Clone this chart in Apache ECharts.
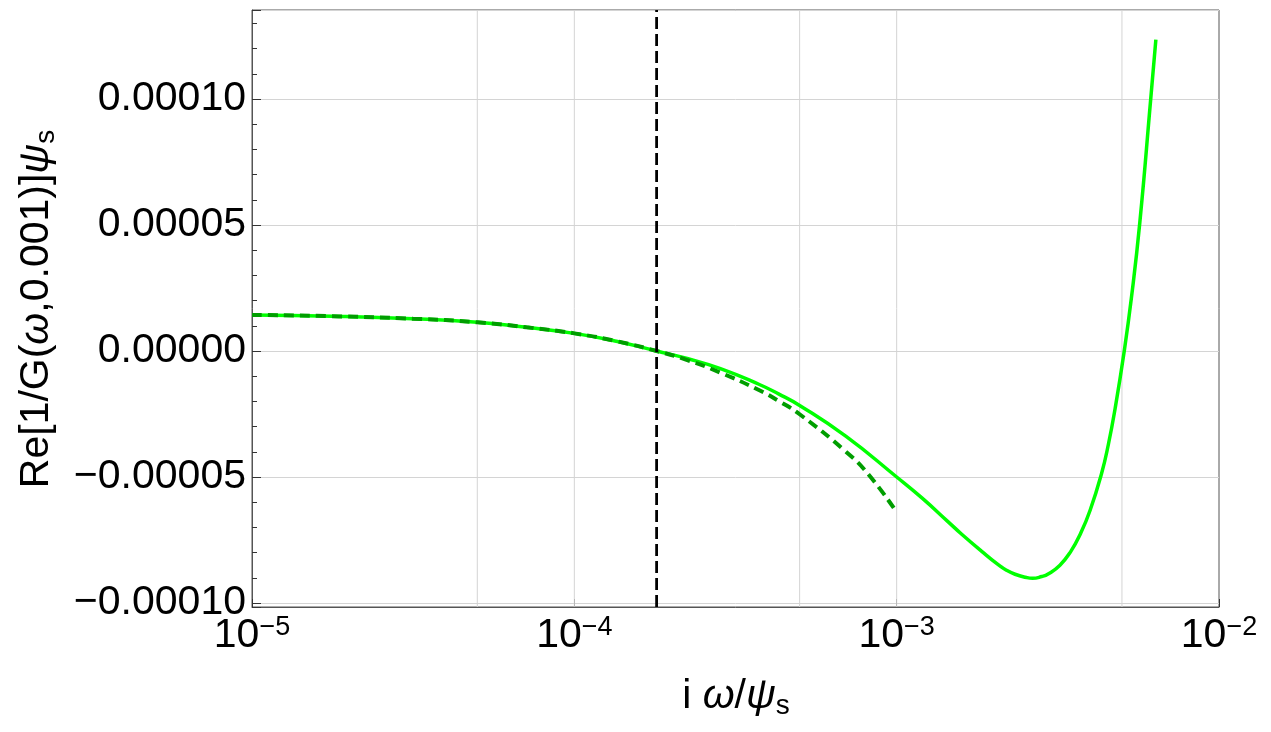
<!DOCTYPE html>
<html>
<head>
<meta charset="utf-8">
<title>Re[1/G(ω,0.001)]ψs</title>
<script src="https://cdn.jsdelivr.net/npm/echarts@6/dist/echarts.min.js"></script>
<style>
  html, body { margin: 0; padding: 0; background: #fff; }
  #chart { width: 1271px; height: 732px; }
</style>
</head>
<body>
<div id="chart"></div>
<script>
// ===== Data =====
const xSolid = [1e-5, 1.78e-5, 3.16e-5, 5e-5, 7.1e-5, 1e-4, 1.35e-4, 1.8e-4, 2.24e-4, 2.84e-4, 3.75e-4, 4.3e-4, 5e-4, 6.95e-4,
  1e-3, 1.2e-3, 1.445e-3, 1.585e-3, 1.84e-3, 2.07e-3, 2.19e-3, 2.33e-3, 2.51e-3, 2.64e-3, 2.82e-3, 2.95e-3, 3.21e-3,
  3.47e-3, 3.72e-3, 3.98e-3, 4.32e-3, 4.54e-3, 4.76e-3, 5.07e-3, 5.35e-3, 5.68e-3, 6.14e-3, 6.37e-3];
const ySolid = [1.43e-5, 1.38e-5, 1.28e-5, 1.14e-5, 9.4e-6, 7.0e-6, 3.9e-6, 0, -3.0e-6, -7.0e-6, -1.33e-5, -1.7e-5, -2.16e-5, -3.38e-5,
  -5.0e-5, -5.84e-5, -6.78e-5, -7.25e-5, -7.96e-5, -8.49e-5, -8.7e-5, -8.86e-5, -8.98e-5, -9.02e-5, -8.95e-5, -8.85e-5, -8.5e-5,
  -7.95e-5, -7.24e-5, -6.33e-5, -4.87e-5, -3.69e-5, -2.29e-5, -0.9e-6, 2.12e-5, 5.1e-5, 1.0e-4, 1.236e-4];

const xDashed = [1e-5, 1.78e-5, 3.16e-5, 5e-5, 7.1e-5, 1e-4, 1.35e-4, 1.8e-4, 2.24e-4, 2.84e-4, 3.75e-4, 4.3e-4, 5e-4, 6.95e-4, 8.18e-4, 1e-3];
const yDashed = [1.43e-5, 1.38e-5, 1.28e-5, 1.14e-5, 9.4e-6, 7.0e-6, 3.9e-6, 0, -3.6e-6, -8.6e-6, -1.56e-5, -1.98e-5, -2.51e-5, -3.99e-5, -4.9e-5, -6.4e-5];

const xGridLines = [5e-5, 1e-4, 5e-4, 1e-3, 5e-3];
const markerX = 1.8e-4;
const xRange = [1e-5, 1e-2];
const yRange = [-1.0159e-4, 1.3532e-4];

const FONT = "'Liberation Sans', Arial, sans-serif";
const zip = (xs, ys) => xs.map((x, i) => [x, ys[i]]);

// full-height vertical segments at the given x values, broken apart with '-' gaps
const verticals = xs => xs.flatMap(x => [[x, yRange[0]], [x, yRange[1]], [x, '-']]);

const chart = echarts.init(document.getElementById('chart'), null, { renderer: 'canvas' });

const option = {
  animation: false,
  backgroundColor: '#fff',
  grid: { left: 252, right: 52, top: 10, bottom: 125, show: true, borderColor: '#555', borderWidth: 1, backgroundColor: 'transparent' },
  xAxis: {
    type: 'log',
    logBase: 10,
    min: xRange[0],
    max: xRange[1],
    splitNumber: 3,
    axisLine: { show: true, onZero: false, lineStyle: { color: '#555', width: 1 } },
    axisTick: { show: true, inside: true, length: 8, lineStyle: { color: '#333' } },
    minorTick: { show: false },
    splitLine: { show: false },
    axisLabel: {
      margin: 7,
      fontSize: 41,
      fontFamily: FONT,
      color: '#000',
      formatter: v => {
        const e = Math.round(Math.log10(v));
        return '{b|10}{s|' + (e < 0 ? '\u2212' : '') + Math.abs(e) + '}';
      },
      rich: {
        b: { fontSize: 41, fontFamily: FONT, color: '#000', lineHeight: 44 },
        s: { fontSize: 27, fontFamily: FONT, color: '#000', lineHeight: 26, verticalAlign: 'top' }
      }
    }
  },
  yAxis: {
    type: 'value',
    min: yRange[0],
    max: yRange[1],
    splitNumber: 5,
    axisLine: { show: true, onZero: false, lineStyle: { color: '#555', width: 1 } },
    axisTick: { show: true, inside: true, length: 9, lineStyle: { color: '#333' } },
    minorTick: { show: true, splitNumber: 5, length: 5, lineStyle: { color: '#333' } },
    splitLine: { show: true, lineStyle: { color: '#d4d4d4', width: 1 } },
    axisLabel: {
      margin: 6,
      fontSize: 41,
      fontFamily: FONT,
      color: '#000',
      showMinLabel: false,
      showMaxLabel: false,
      formatter: v => {
        if (Math.abs(v) < 1e-12) return '0.00000';
        return (v < 0 ? '\u2212' : '') + Math.abs(v).toFixed(5);
      }
    }
  },
  series: [
    {
      // vertical grid lines at 1 and 5 of each decade
      type: 'line',
      data: verticals(xGridLines),
      showSymbol: false,
      connectNulls: false,
      silent: true,
      z: 1,
      lineStyle: { color: '#d4d4d4', width: 1 }
    },
    {
      name: 'full',
      type: 'line',
      data: zip(xSolid, ySolid),
      showSymbol: false,
      smooth: 0.5,
      z: 2,
      lineStyle: { color: '#00ff00', width: 3.5 }
    },
    {
      name: 'approx',
      type: 'line',
      data: zip(xDashed, yDashed),
      showSymbol: false,
      smooth: 0.5,
      z: 3,
      lineStyle: { color: '#009e00', width: 4, type: [10, 6] }
    },
    {
      // vertical dashed marker
      type: 'line',
      data: verticals([markerX]),
      showSymbol: false,
      silent: true,
      z: 4,
      lineStyle: { color: '#000', width: 2.8, type: [12, 5] }
    }
  ],
  graphic: [
    {
      type: 'text',
      x: 37,
      y: 309,
      rotation: Math.PI / 2,
      style: {
        text: '{n|Re[1/G(}{i|ω}{n|,0.001)]}{i|ψ}{sub|s}',
        align: 'center',
        verticalAlign: 'middle',
        rich: {
          n: { fontSize: 41, fontFamily: FONT, fill: '#000', lineHeight: 46 },
          i: { fontSize: 41, fontFamily: FONT, fontStyle: 'italic', fill: '#000', lineHeight: 46 },
          sub: { fontSize: 28, fontFamily: FONT, fill: '#000', lineHeight: 28, verticalAlign: 'bottom' }
        }
      }
    },
    {
      type: 'text',
      x: 736,
      y: 697,
      style: {
        text: '{n|i }{i|ω}{n|/}{i|ψ}{sub|s}',
        align: 'center',
        verticalAlign: 'middle',
        rich: {
          n: { fontSize: 41, fontFamily: FONT, fill: '#000', lineHeight: 46 },
          i: { fontSize: 41, fontFamily: FONT, fontStyle: 'italic', fill: '#000', lineHeight: 46 },
          sub: { fontSize: 28, fontFamily: FONT, fill: '#000', lineHeight: 28, verticalAlign: 'bottom' }
        }
      }
    }
  ]
};

chart.setOption(option);
</script>
</body>
</html>
